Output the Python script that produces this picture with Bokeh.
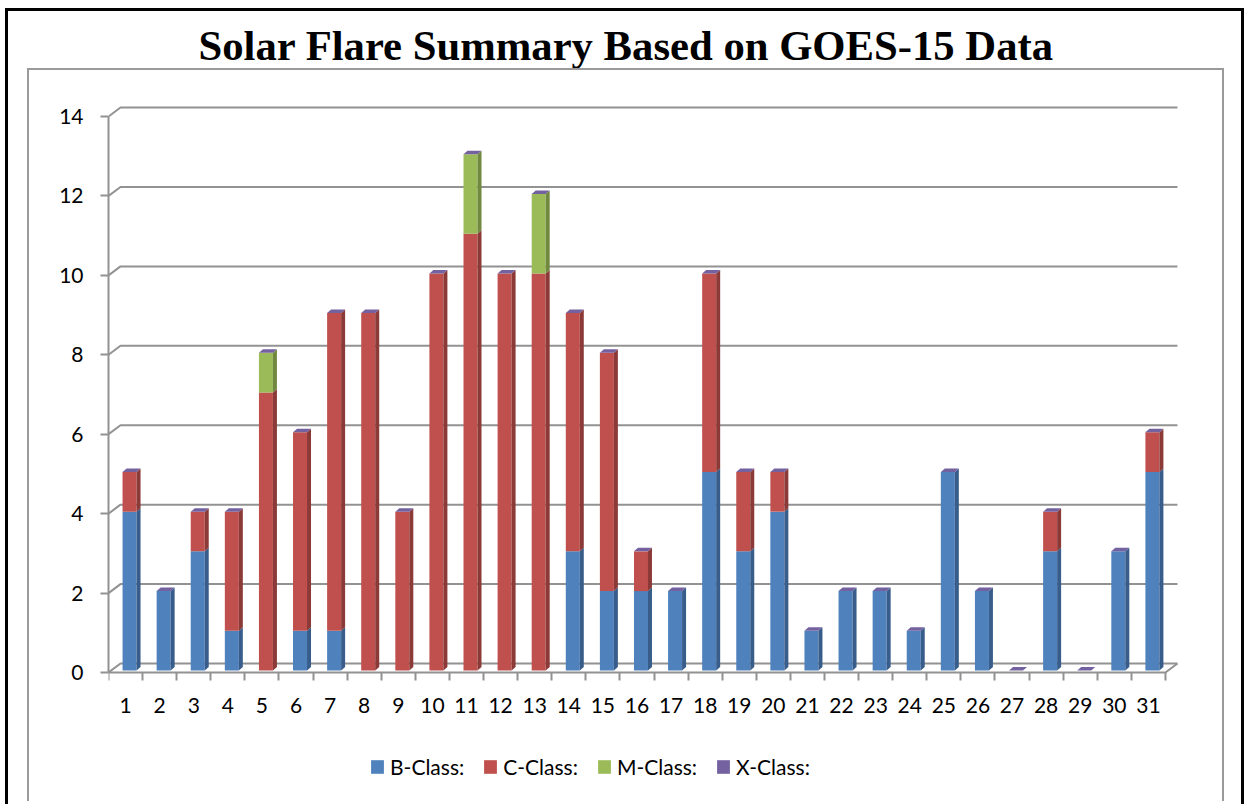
from bokeh.plotting import figure
from bokeh.models import (Range1d, FixedTicker, Legend, LegendItem, Title,
                          ColumnDataSource, InlineStyleSheet)
from bokeh.embed import file_html
from bokeh.resources import INLINE

# ---------------- data ----------------
days = [1, 2, 3, 4, 5, 6, 7, 8, 9, 10, 11, 12, 13, 14, 15, 16,
        17, 18, 19, 20, 21, 22, 23, 24, 25, 26, 27, 28, 29, 30, 31]
b_class = [4, 2, 3, 1, 0, 1, 1, 0, 0, 0, 0, 0, 0, 3, 2, 2,
           2, 5, 3, 4, 1, 2, 2, 1, 5, 2, 0, 3, 0, 3, 5]
c_class = [1, 0, 1, 3, 7, 5, 8, 9, 4, 10, 11, 10, 10, 6, 6, 1,
           0, 5, 2, 1, 0, 0, 0, 0, 0, 0, 0, 1, 0, 0, 1]
m_class = [0, 0, 0, 0, 1, 0, 0, 0, 0, 0, 2, 0, 2, 0, 0, 0,
           0, 0, 0, 0, 0, 0, 0, 0, 0, 0, 0, 0, 0, 0, 0]
x_class = [0, 0, 0, 0, 0, 0, 0, 0, 0, 0, 0, 0, 0, 0, 0, 0,
           0, 0, 0, 0, 0, 0, 0, 0, 0, 0, 0, 0, 0, 0, 0]
series_names = ["B-Class:", "C-Class:", "M-Class:", "X-Class:"]
y_ticks = [0, 2, 4, 6, 8, 10, 12, 14]
title_text = "Solar Flare Summary Based on GOES-15 Data"

# ---------------- styling ----------------
front_colors = ["#4F81BD", "#C0504D", "#9BBB59", "#8064A2"]
side_colors = ["#385D8A", "#8C3A38", "#71893F", "#5E4A7A"]
cap_color = "#7361A0"
grid_color = "#929292"
LABEL_FONT = "Lato"

W, H = 1246, 804
PXX = 34.1     # px per category
PXY = 39.71    # px per unit
FRAME_TOP, ZERO_Y = 100, 672
bw = 14 / PXX          # bar front width
bdx = 4 / PXX          # bar shift right (depth centre)
bdy = 2 / PXY          # bar shift up
sdx = 4 / PXX          # side face depth x
sdy = 3.5 / PXY        # side face depth y
gdx = 12 / PXX         # back wall offset x
gdy = 9 / PXY          # back wall offset y

css = """
:host { position: relative; }
:host::before { content: ""; position: absolute; left: 5px; top: 8px;
  width: 1239px; height: 796px; box-sizing: border-box;
  border: 3px solid #000000; border-bottom: none; pointer-events: none; z-index: 5; }
:host::after { content: ""; position: absolute; left: 27px; top: 68px;
  width: 1197px; height: 733px; box-sizing: border-box;
  border: 2px solid #9A9A9A; border-bottom: none; pointer-events: none; z-index: 5; }
"""

y_lo = -(H - ZERO_Y) / PXY
y_hi = (ZERO_Y - FRAME_TOP) / PXY
p = figure(width=W, height=H, output_backend="svg", toolbar_location=None,
           x_range=Range1d(0.5, 32.0), y_range=Range1d(y_lo, y_hi),
           min_border_left=108, min_border_right=64, min_border_top=FRAME_TOP,
           min_border_bottom=0, stylesheets=[InlineStyleSheet(css=css)])
p.background_fill_color = "white"
p.border_fill_color = "white"
p.outline_line_color = None
p.grid.visible = False

# ---- back wall gridlines + floor ----
gxs, gys = [], []
for v in y_ticks:
    gxs.append([0.5, 0.5 + gdx, days[-1] + 0.5 + gdx])
    gys.append([v, v + gdy, v + gdy])
gxs.append([0.5, days[-1] + 0.5, days[-1] + 0.5 + gdx])
gys.append([0, 0, gdy])
p.multi_line(gxs, gys, line_color=grid_color, line_width=2)

# ---- stacked 3D-looking bars ----
values = [b_class, c_class, m_class, x_class]
running = [0] * len(days)
legend_renderers = []
for k, vals in enumerate(values):
    fx, fb, ft, sxs, sys_ = [], [], [], [], []
    for i, d in enumerate(days):
        v = vals[i]
        bot = running[i]
        top = bot + v
        running[i] = top
        if v <= 0:
            continue
        xc = d + bdx
        fx.append(xc)
        fb.append(bot + bdy)
        ft.append(top + bdy)
        xr = xc + bw / 2
        sxs.append([xr, xr + sdx, xr + sdx, xr])
        sys_.append([bot + bdy, bot + bdy + sdy, top + bdy + sdy, top + bdy])
    src = ColumnDataSource(dict(x=fx, bottom=fb, top=ft))
    r = p.vbar(x="x", width=bw, bottom="bottom", top="top", source=src,
               fill_color=front_colors[k], line_color=None)
    p.patches(sxs, sys_, fill_color=side_colors[k], line_color=None)
    legend_renderers.append(r)

cxs, cys = [], []
for i, d in enumerate(days):
    t = running[i] + bdy
    xc = d + bdx
    cxs.append([xc - bw / 2, xc + bw / 2, xc + bw / 2 + sdx, xc - bw / 2 + sdx])
    cys.append([t, t, t + sdy, t + sdy])
cap_r = p.patches(cxs, cys, fill_color=cap_color, line_color=None)
legend_renderers[3] = cap_r

# ---- axes ----
yax = p.yaxis[0]
yax.ticker = FixedTicker(ticks=y_ticks)
yax.bounds = (0, 14)
yax.axis_line_color = grid_color
yax.axis_line_width = 2
yax.major_tick_line_color = grid_color
yax.major_tick_line_width = 2
yax.major_tick_out = 8
yax.major_tick_in = 0
yax.minor_tick_line_color = None
yax.major_label_standoff = 17
yax.major_label_text_font = LABEL_FONT
yax.major_label_text_font_size = "21px"
yax.major_label_text_color = "black"

xax = p.xaxis[0]
xax.fixed_location = 0
xax.ticker = FixedTicker(ticks=days, minor_ticks=[d + 0.5 for d in [0] + days])
xax.bounds = (0.5, days[-1] + 0.5)
xax.axis_line_color = None
xax.major_tick_line_color = None
xax.major_tick_out = 0
xax.major_tick_in = 0
xax.minor_tick_line_color = grid_color
xax.minor_tick_line_width = 2
xax.minor_tick_out = 8
xax.minor_tick_in = 0
xax.major_label_standoff = 17
xax.major_label_text_font = LABEL_FONT
xax.major_label_text_font_size = "21px"
xax.major_label_text_color = "black"

# ---- title (spacer between title and plot area) ----
spacer = Title(text=" ", text_font_size="10px", standoff=17,
               text_color="white")
p.add_layout(spacer, "above")
p.title.text = title_text
p.title.text_font = "Liberation Serif"
p.title.text_font_style = "bold"
p.title.text_font_size = "42.7px"
p.title.text_color = "black"
p.title.align = "left"
p.title.offset = 90
p.title.vertical_align = "top"
p.title.standoff = 0

# ---- legend ----
items = [LegendItem(label=series_names[k], renderers=[legend_renderers[k]])
         for k in range(4)]
legend = Legend(items=items, orientation="horizontal", location=(261, 25),
                glyph_width=16, glyph_height=17, label_standoff=5, spacing=18,
                padding=0, margin=0, border_line_color=None,
                background_fill_alpha=0, label_text_font=LABEL_FONT,
                label_text_font_size="21px", label_text_color="black")
p.add_layout(legend)

open("out.html", "w").write(file_html(p, INLINE))
